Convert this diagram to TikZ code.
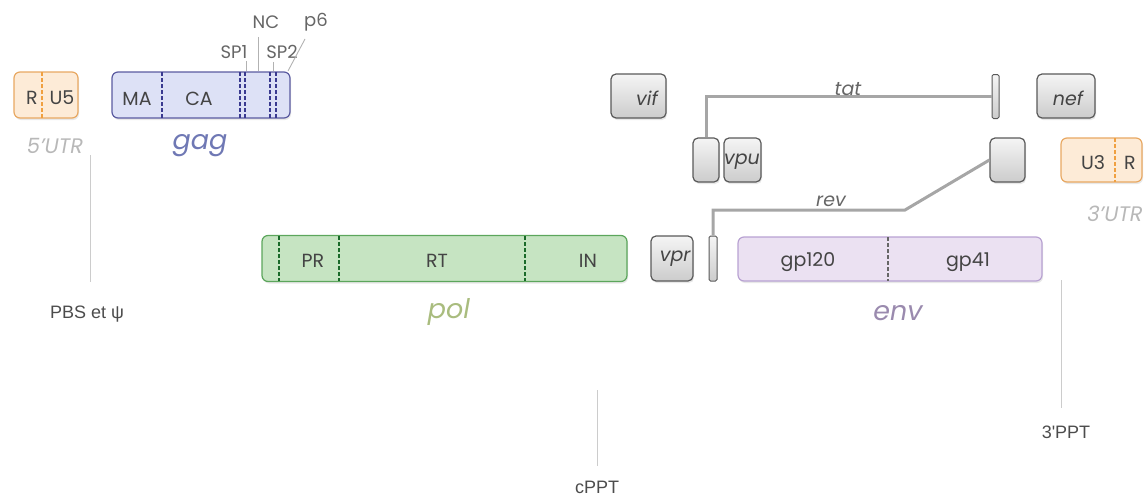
\documentclass[tikz,border=0pt]{standalone}
\usepackage{fontspec}
\setmainfont{Poppins}
\newfontfamily\arialf{Liberation Sans}
\usetikzlibrary{shadows}
\definecolor{utrfill}{HTML}{FDEBD7}
\definecolor{utrdraw}{HTML}{E8A862}
\definecolor{utrdash}{HTML}{F0A040}
\definecolor{gagfill}{HTML}{DDE1F6}
\definecolor{gagdraw}{HTML}{5A5AA0}
\definecolor{gagdash}{HTML}{3A3A90}
\definecolor{polfill}{HTML}{C6E4C2}
\definecolor{poldraw}{HTML}{5CA65C}
\definecolor{poldash}{HTML}{1A6A2A}
\definecolor{envfill}{HTML}{EBE1F2}
\definecolor{envdraw}{HTML}{B8A2D2}
\definecolor{boxtext}{HTML}{444444}
\definecolor{gaglab}{HTML}{6F78B4}
\definecolor{pollab}{HTML}{A9BC7E}
\definecolor{envlab}{HTML}{9A8AAE}
\definecolor{utrlab}{HTML}{B8B8B8}
\tikzset{
  gene/.style={rounded corners=6pt, line width=1.2pt, minimum height=46pt, inner sep=0pt,
    drop shadow={opacity=0.18, shadow xshift=1pt, shadow yshift=-2pt}},
  utrbox/.style={gene, fill=utrfill, draw=utrdraw},
  gagbox/.style={gene, fill=gagfill, draw=gagdraw},
  polbox/.style={gene, fill=polfill, draw=poldraw},
  envbox/.style={gene, fill=envfill, draw=envdraw},
  gbox/.style={rounded corners=5pt, line width=1.2pt, draw=black!65, inner sep=0pt,
    top color=black!4, bottom color=black!20,
    drop shadow={opacity=0.18, shadow xshift=1pt, shadow yshift=-2pt}},
  bar/.style={rounded corners=1.5pt, line width=1pt, draw=black!65, inner sep=0pt,
    top color=black!4, bottom color=black!20},
  seg/.style={line width=1.1pt, dash pattern=on 3.5pt off 2.5pt},
  inlab/.style={text=boxtext, font=\fontsize{19}{19}\selectfont},
  glab/.style={text=boxtext, font=\fontsize{19}{19}\selectfont\itshape},
  smalllab/.style={text=black!60, font=\fontsize{18}{18}\selectfont},
  genelab/.style={font=\fontsize{27}{27}\selectfont\itshape},
  utrl/.style={text=utrlab, font=\fontsize{21}{21}\selectfont\itshape},
  conlab/.style={text=black!60, font=\fontsize{19}{19}\selectfont\itshape},
  conn/.style={line width=3pt, draw=black!35},
  thin/.style={line width=0.9pt, draw=black!20},
  tick/.style={line width=0.9pt, draw=black!30},
  ptlab/.style={text=black!70, font=\arialf\fontsize{18}{18}\selectfont}
}
\begin{document}
\begin{tikzpicture}[x=1pt,y=-1pt]
\useasboundingbox (0,0) rectangle (1145,495);

% 5' UTR
\node[utrbox, minimum width=64pt] (utr5) at (46,95) {};
\draw[seg, draw=utrdash] (42,72) -- (42,118);
\node[inlab] (r5) at (32,98) {R};
\node[inlab] (u5) at (62,98) {U5};
\node[utrl] (utr5l) at (55,146) {5'UTR};

% gag
\node[gagbox, minimum width=178pt] (gag) at (201,95) {};
\foreach \xx in {162,240,245,270,276} \draw[seg, draw=gagdash] (\xx,72) -- (\xx,118);
\node[inlab] (ma) at (137,99) {MA};
\node[inlab] (ca) at (199,99) {CA};
\node[genelab, text=gaglab] (gagl) at (200,146) {gag};
\node[smalllab] (sp1) at (234,52) {SP1};
\node[smalllab] (sp2) at (282,52) {SP2};
\node[smalllab] (nc) at (266,22) {NC};
\node[smalllab] (p6) at (316,22) {p6};
\coordinate (sp1a) at (246,61); \coordinate (sp1b) at (246,71);
\coordinate (nca) at (258,37); \coordinate (ncb) at (258,71);
\coordinate (sp2a) at (273,62); \coordinate (sp2b) at (273,71);
\coordinate (p6a) at (305,39); \coordinate (p6b) at (288,71);
\draw[tick] (sp1a) -- (sp1b);
\draw[tick] (nca) -- (ncb);
\draw[tick] (sp2a) -- (sp2b);
\draw[tick] (p6a) -- (p6b);

% PBS
\coordinate (pbsa) at (90,155); \coordinate (pbsb) at (90,282);
\draw[thin] (pbsa) -- (pbsb);
\node[ptlab] (pbs) at (87,314) {PBS et ψ};

% pol
\node[polbox, minimum width=365pt] (pol) at (444.5,258.5) {};
\foreach \xx in {279,339,525} \draw[seg, draw=poldash] (\xx,236) -- (\xx,281);
\node[inlab] (pr) at (313,261) {PR};
\node[inlab] (rt) at (437,261) {RT};
\node[inlab] (in) at (588,261) {IN};
\node[genelab, text=pollab] (poll) at (449,312) {pol};

% cPPT
\coordinate (cppta) at (597,390); \coordinate (cpptb) at (597,466);
\draw[thin] (cppta) -- (cpptb);
\node[ptlab] (cppt) at (597,487) {cPPT};

% vpr
\node[gbox, minimum width=42pt, minimum height=45pt] (vpr) at (672,258.5) {};
\node[glab, anchor=east] (vprl) at (694,259) {vpr};

% rev bar
\node[bar, minimum width=8pt, minimum height=45pt] (revbar) at (713,258.5) {};

% env
\node[envbox, minimum width=304pt, minimum height=44pt] (env) at (890,259) {};
\draw[seg, draw=black!60] (888,237) -- (888,281);
\node[inlab] (gp120) at (808,262) {gp120};
\node[inlab] (gp41) at (968,262) {gp41};
\node[genelab, text=envlab] (envl) at (898,313) {env};

% 3'PPT
\coordinate (ppt3a) at (1061,280); \coordinate (ppt3b) at (1061,408);
\draw[thin] (ppt3a) -- (ppt3b);
\node[ptlab] (ppt3) at (1066,432) {3'PPT};

% vif
\node[gbox, minimum width=55pt, minimum height=44pt] (vif) at (638.5,96) {};
\node[glab] (vifl) at (647,98) {vif};

% tat / vpu
\node[gbox, minimum width=26pt, minimum height=44pt] (tat1) at (706,160) {};
\node[gbox, minimum width=37pt, minimum height=44pt] (vpu) at (742.5,160) {};
\node[glab] (vpul) at (742,162) {vpu};
\node[bar, minimum width=7pt, minimum height=44pt] (tatbar) at (995.5,96.5) {};
\draw[conn] (tat1.north) |- (tatbar.west);
\node[conlab] (tatl) at (848,89) {tat};

% nef
\node[gbox, minimum width=58pt, minimum height=44pt] (nef) at (1066,96) {};
\node[glab] (nefl) at (1068,98) {nef};

% rev exon 1
\node[gbox, minimum width=35pt, minimum height=44pt] (rev1) at (1007.5,160) {};
\coordinate (revk) at (905,210);
\draw[conn] (rev1.west) -- (revk) -- (revk -| revbar.north) -- (revbar.north);
\node[conlab] (revl) at (831,201) {rev};

% 3' UTR
\node[utrbox, minimum width=81pt, minimum height=44pt] (utr3) at (1101.5,160) {};
\draw[seg, draw=utrdash] (1115,138) -- (1115,182);
\node[inlab] (u3) at (1093,163) {U3};
\node[inlab] (r3) at (1130,163) {R};
\node[utrl] (utr3l) at (1115,214) {3'UTR};
\end{tikzpicture}
\end{document}
